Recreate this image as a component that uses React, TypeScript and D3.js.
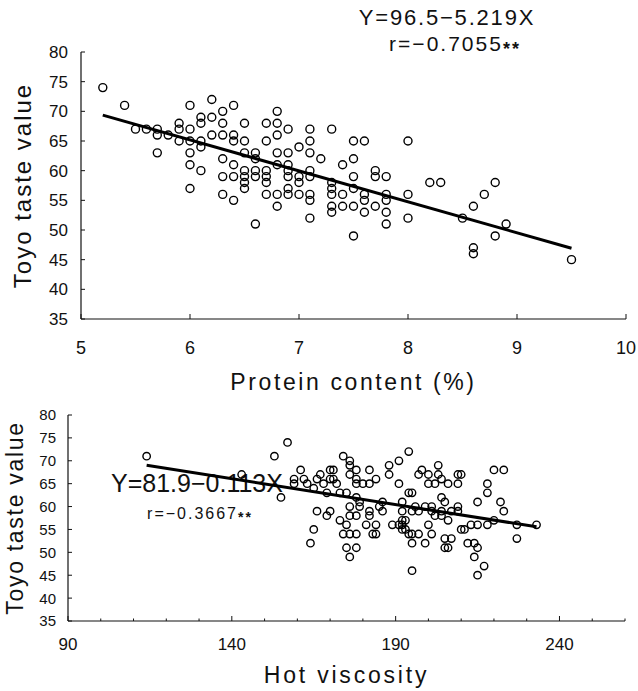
import * as d3 from 'd3';

// protein content (%) vs Toyo taste value
const proteinX = [
    5.2, 5.4, 6.0, 6.2, 6.4, 6.3, 6.8, 6.1, 6.2, 5.9, 6.1, 6.3, 6.5, 6.7, 6.8, 6.9, 7.1, 7.3, 5.5, 5.6,
    5.7, 5.9, 6.0, 5.7, 5.8, 6.2, 6.3, 6.4, 6.8, 5.9, 6.0, 6.1, 6.4, 6.5, 6.7, 7.1, 7.5, 7.6, 8.0, 6.1,
    7.0, 5.7, 6.0, 6.5, 6.6, 6.8, 6.9, 7.1, 6.3, 6.6, 7.2, 7.5, 6.0, 6.4, 6.8, 6.9, 7.4, 6.1, 6.5, 6.6,
    6.7, 6.9, 7.1, 7.7, 6.3, 6.4, 6.5, 6.6, 6.7, 6.9, 7.0, 7.1, 7.5, 7.7, 7.8, 6.5, 6.7, 7.0, 7.3, 8.2,
    8.3, 8.8, 6.0, 6.5, 6.9, 7.3, 7.5, 6.3, 6.7, 6.8, 6.9, 7.0, 7.1, 7.3, 7.4, 7.6, 7.8, 8.0, 8.7, 6.4,
    7.1, 7.6, 7.8, 6.8, 7.3, 7.4, 7.5, 7.7, 8.6, 7.3, 7.6, 7.8, 7.1, 8.0, 8.5, 6.6, 7.8, 8.9, 7.5, 8.8,
    8.6, 8.6, 9.5,
];
const proteinTaste = [
    74, 71, 71, 72, 71, 70, 70, 69, 69, 68, 68, 68, 68, 68, 68, 67, 67, 67, 67, 67,
    67, 67, 67, 66, 66, 66, 66, 66, 66, 65, 65, 65, 65, 65, 65, 65, 65, 65, 65, 64,
    64, 63, 63, 63, 63, 63, 63, 63, 62, 62, 62, 62, 61, 61, 61, 61, 61, 60, 60, 60,
    60, 60, 60, 60, 59, 59, 59, 59, 59, 59, 59, 59, 59, 59, 59, 58, 58, 58, 58, 58,
    58, 58, 57, 57, 57, 57, 57, 56, 56, 56, 56, 56, 56, 56, 56, 56, 56, 56, 56, 55,
    55, 55, 55, 54, 54, 54, 54, 54, 54, 53, 53, 53, 52, 52, 52, 51, 51, 51, 49, 49,
    47, 46, 45,
];

// hot viscosity vs Toyo taste value
const viscosityX = [
    114, 143, 153, 157, 155,
    159, 159, 161, 162, 163, 165, 166, 167, 168, 170, 171, 170, 171, 172, 169, 166, 170, 169, 165, 164,
    173, 175, 174, 176, 176, 176, 178, 178, 178, 180, 182, 182, 184, 178, 179, 176, 179, 182, 185, 186,
    176, 178, 182, 173, 175, 181, 184, 174, 176, 178, 183, 184, 178, 175, 176, 186,
    188, 188, 191, 194, 191, 194, 195, 192, 189, 191, 192, 193, 192, 193, 194, 195, 192, 195, 195, 196,
    197, 198, 199, 197, 195, 192, 200, 200, 200, 201, 199, 197,
    202, 203, 203, 204, 201, 201, 204, 202, 204, 204, 205, 206, 207, 206, 209, 210, 209, 209, 209, 210,
    211, 205, 207, 205, 206, 212, 214, 215, 214, 213, 215, 218, 215, 218, 218, 220, 223, 220, 222, 223,
    217, 215, 227, 227, 233,
];
const viscosityTaste = [
    71, 67, 71, 74, 62,
    66, 65, 68, 66, 65, 64, 66, 67, 65, 68, 68, 66, 66, 65, 63, 59, 59, 58, 55, 52,
    63, 63, 71, 70, 69, 67, 68, 66, 65, 65, 65, 68, 66, 62, 61, 60, 60, 59, 60, 59,
    58, 58, 58, 57, 56, 56, 56, 54, 54, 54, 54, 54, 51, 51, 49, 61,
    69, 67, 70, 72, 65, 63, 63, 61, 56, 56, 56, 57, 57, 55, 54, 54, 55, 52, 46, 60,
    67, 68, 60, 59, 59, 59, 67, 65, 56, 54, 52, 54,
    65, 69, 67, 66, 60, 59, 59, 58, 58, 62, 61, 65, 59, 57, 67, 67, 65, 60, 59, 55,
    55, 53, 53, 51, 51, 52, 52, 51, 49, 56, 56, 56, 61, 65, 63, 68, 68, 57, 61, 59,
    47, 45, 56, 53, 56,
];

const yTicks = [35, 40, 45, 50, 55, 60, 65, 70, 75, 80];
const proteinTicks = [5, 6, 7, 8, 9, 10];
const viscosityTicks = [90, 140, 190, 240];

const FONT = "'Liberation Sans', Arial, sans-serif";
const INK = '#111';

const ScatterPanel = ({ xs, ys, xDomain, xRange, yRange, xTicks, xMinor, fit, fitRange, r,
    yLabelSize, yLabelX, xLabelY, xLabelSize, xTitle, xTitleY, yTitleX, yTitleSize, yTitleSpacing, xTitleSpacing }) => {
    const x = d3.scaleLinear().domain(xDomain).range(xRange);
    const y = d3.scaleLinear().domain([35, 80]).range(yRange);
    const line = d3.line().x((d) => x(d[0])).y((d) => y(d[1]));
    const fitPts = fitRange.map((v) => [v, fit[0] + fit[1] * v]);
    const yMid = (yRange[0] + yRange[1]) / 2;
    const xMid = (xRange[0] + xRange[1]) / 2;

    return (
        <g>
            {/* axes */}
            <line x1={xRange[0]} x2={xRange[0]} y1={yRange[0]} y2={yRange[1]} stroke={INK} strokeWidth={1.2} />
            <line x1={xRange[0]} x2={xRange[1]} y1={yRange[0]} y2={yRange[0]} stroke={INK} strokeWidth={1.2} />
            {yTicks.map((t) => (
                <g key={'y' + t}>
                    <line x1={xRange[0]} x2={xRange[0] + 4} y1={y(t)} y2={y(t)} stroke={INK} />
                    <text x={yLabelX} y={y(t)} dy="0.36em" textAnchor="end" fontSize={yLabelSize} fill={INK}>
                        {t}
                    </text>
                </g>
            ))}
            {xMinor.map((t) => (
                <line key={'m' + t} x1={x(t)} x2={x(t)} y1={yRange[0]} y2={yRange[0] - 2.5} stroke={INK} />
            ))}
            {xTicks.map((t) => (
                <g key={'x' + t}>
                    <line x1={x(t)} x2={x(t)} y1={yRange[0]} y2={yRange[0] - 5} stroke={INK} />
                    <text x={x(t)} y={xLabelY} textAnchor="middle" fontSize={xLabelSize} fill={INK}>
                        {t}
                    </text>
                </g>
            ))}
            <text x={xMid} y={xTitleY} textAnchor="middle" fontSize={23} letterSpacing={xTitleSpacing} fill={INK}>
                {xTitle}
            </text>
            <text
                transform={`translate(${yTitleX},${yMid}) rotate(-90)`}
                textAnchor="middle"
                fontSize={yTitleSize}
                letterSpacing={yTitleSpacing}
                fill={INK}
            >
                Toyo taste value
            </text>
            {/* fit line + points */}
            <path d={line(fitPts)} fill="none" stroke="#000" strokeWidth={3} />
            {xs.map((v, i) => (
                <circle key={i} cx={x(v)} cy={y(ys[i])} r={r} fill="none" stroke="#000" strokeWidth={1.4} />
            ))}
        </g>
    );
};

export default function App() {
    return (
        <svg
            width={638}
            height={691}
            style={{ position: 'absolute', left: 0, top: 0, background: '#fff' }}
            fontFamily={FONT}
        >
            {/* top: protein content */}
            <text x={447} y={25} textAnchor="middle" fontSize={22} letterSpacing={1.8} fill={INK}>
                Y=96.5−5.219X
            </text>
            <text x={455} y={51} textAnchor="middle" fontSize={21} letterSpacing={2} fill={INK}>
                r=−0.7055
                <tspan fontSize={18} dy={4} fontWeight="bold">**</tspan>
            </text>
            <ScatterPanel
                xs={proteinX}
                ys={proteinTaste}
                xDomain={[5, 10]}
                xRange={[81, 626]}
                yRange={[319, 52]}
                xTicks={proteinTicks}
                xMinor={[]}
                fit={[96.5, -5.219]}
                fitRange={[5.2, 9.5]}
                r={4}
                yLabelSize={17}
                yLabelX={68}
                xLabelY={354}
                xLabelSize={18}
                xTitle="Protein content (%)"
                xTitleY={390}
                xTitleSpacing={2.6}
                yTitleX={31}
                yTitleSize={24}
                yTitleSpacing={2}
            />

            {/* bottom: hot viscosity */}
            <text x={197} y={492} textAnchor="middle" fontSize={25} fill={INK}>
                Y=81.9−0.113X
            </text>
            <text x={200} y={519} textAnchor="middle" fontSize={16} letterSpacing={2} fill={INK}>
                r=−0.3667
                <tspan fontSize={14} dy={3} fontWeight="bold">**</tspan>
            </text>
            <ScatterPanel
                xs={viscosityX}
                ys={viscosityTaste}
                xDomain={[90, 260]}
                xRange={[68, 625]}
                yRange={[621, 415]}
                xTicks={viscosityTicks}
                xMinor={d3.range(100, 261, 10).filter((t) => (t - 90) % 50 !== 0)}
                fit={[81.9, -0.113]}
                fitRange={[114, 233]}
                r={3.7}
                yLabelSize={15}
                yLabelX={56}
                xLabelY={650}
                xLabelSize={17}
                xTitle="Hot viscosity"
                xTitleY={683}
                xTitleSpacing={2.8}
                yTitleX={23}
                yTitleSize={23}
                yTitleSpacing={1.7}
            />
        </svg>
    );
}
